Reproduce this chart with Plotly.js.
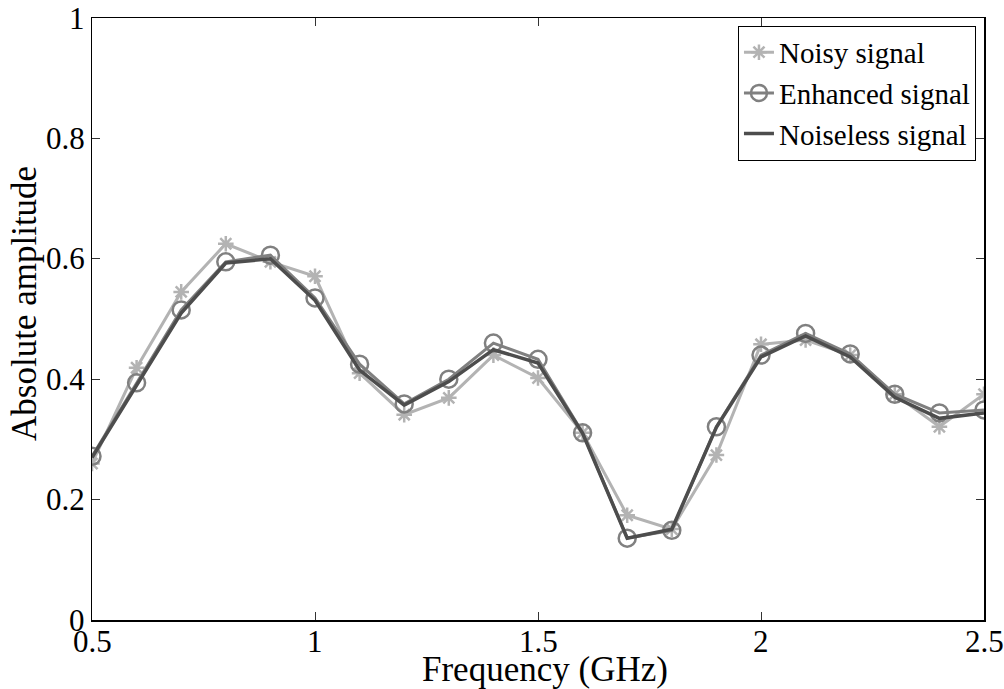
<!DOCTYPE html>
<html>
<head>
<meta charset="utf-8">
<script src="https://cdn.plot.ly/plotly-3.0.1.min.js"></script>
<style>
  html, body { margin: 0; padding: 0; background: #fff; }
  #chart { width: 1004px; height: 689px; }
</style>
</head>
<body>
<div id="chart"></div>
<script>
// Frequency samples (GHz)
const freq = [0.5, 0.6, 0.7, 0.8, 0.9, 1.0, 1.1, 1.2, 1.3, 1.4, 1.5,
              1.6, 1.7, 1.8, 1.9, 2.0, 2.1, 2.2, 2.3, 2.4, 2.5];

// Absolute amplitude of each signal
const noisy = [0.26, 0.419, 0.545, 0.625, 0.595, 0.571, 0.41, 0.341, 0.369, 0.44, 0.402,
               0.311, 0.174, 0.151, 0.274, 0.458, 0.465, 0.44, 0.375, 0.321, 0.375];
const enhanced = [0.272, 0.394, 0.515, 0.595, 0.606, 0.535, 0.425, 0.359, 0.40, 0.46, 0.433,
                  0.311, 0.136, 0.149, 0.321, 0.44, 0.476, 0.442, 0.375, 0.344, 0.349];
const noiseless = [0.27, 0.39, 0.51, 0.593, 0.60, 0.531, 0.415, 0.357, 0.396, 0.449, 0.427,
                   0.31, 0.136, 0.151, 0.32, 0.437, 0.472, 0.437, 0.37, 0.335, 0.344];

const xTicks = [0.5, 1, 1.5, 2, 2.5];
const yTicks = [0, 0.2, 0.4, 0.6, 0.8, 1];
const xTitle = 'Frequency (GHz)';
const yTitle = 'Absolute amplitude';

const serif = "'Liberation Serif', 'Times New Roman', serif";
const tickFont = { family: serif, size: 31, color: '#000' };
const titleFont = { family: serif, size: 35, color: '#000' };

const traces = [
  {
    x: freq, y: noisy, name: 'Noisy signal', type: 'scatter', mode: 'lines+markers',
    line: { color: '#b3b3b3', width: 3 },
    marker: { symbol: 'asterisk-open', size: 13, color: '#b3b3b3', line: { color: '#b3b3b3', width: 2.5 } }
  },
  {
    x: freq, y: enhanced, name: 'Enhanced signal', type: 'scatter', mode: 'lines+markers',
    line: { color: '#808080', width: 3 },
    marker: { symbol: 'circle-open', size: 17, color: '#808080', line: { color: '#808080', width: 2.5 } }
  },
  {
    x: freq, y: noiseless, name: 'Noiseless signal', type: 'scatter', mode: 'lines',
    line: { color: '#4d4d4d', width: 3.5 }
  }
];

// Tick labels and axis titles set as annotations anchored to the axes
const annotations = [];
xTicks.forEach(v => annotations.push({
  text: String(v), xref: 'x', yref: 'paper', x: v, y: 0,
  xanchor: 'center', yanchor: 'top', yshift: -2, showarrow: false, font: tickFont
}));
yTicks.forEach(v => annotations.push({
  text: String(v), xref: 'paper', yref: 'y', x: 0, y: v,
  xanchor: 'right', yanchor: 'middle', xshift: -5, showarrow: false, font: tickFont
}));
annotations.push({
  text: xTitle, xref: 'paper', yref: 'paper', x: 0.508, y: 0,
  xanchor: 'center', yanchor: 'top', yshift: -28, showarrow: false, font: titleFont
});
annotations.push({
  text: yTitle, xref: 'paper', yref: 'paper', x: 0, y: 0.525,
  xanchor: 'center', yanchor: 'middle', xshift: -67, textangle: -90, showarrow: false, font: titleFont
});

const axisStyle = {
  showgrid: false, zeroline: false, showticklabels: false,
  showline: true, linecolor: '#000', linewidth: 1.5, mirror: 'ticks',
  ticks: 'inside', ticklen: 8, tickwidth: 1, tickcolor: '#333',
  tickmode: 'array', automargin: false
};

const layout = {
  width: 1004, height: 689,
  margin: { l: 92, r: 20, t: 18, b: 69 },
  paper_bgcolor: '#fff', plot_bgcolor: '#fff',
  font: { family: serif, color: '#000', size: 30 },
  showlegend: true,
  legend: {
    x: 0.991, y: 0.987, xanchor: 'right', yanchor: 'top',
    bgcolor: '#fff', bordercolor: '#000', borderwidth: 1,
    font: { family: serif, size: 29, color: '#000' },
    tracegroupgap: 0
  },
  xaxis: Object.assign({}, axisStyle, { range: [0.5, 2.5], tickvals: xTicks }),
  yaxis: Object.assign({}, axisStyle, { range: [0, 1], tickvals: yTicks }),
  annotations: annotations
};

Plotly.newPlot('chart', traces, layout, { displayModeBar: false, staticPlot: true });
</script>
</body>
</html>
